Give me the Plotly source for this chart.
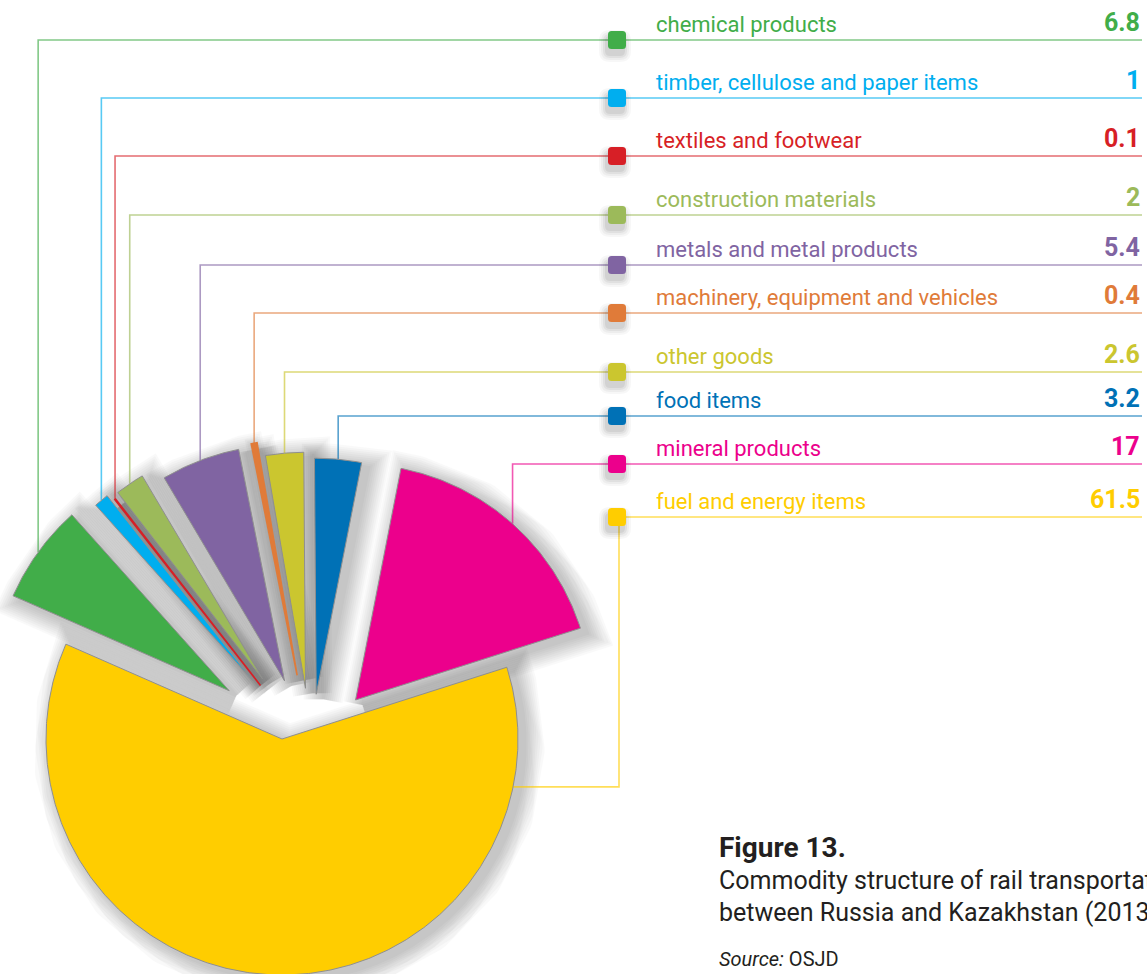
import math
import plotly.graph_objects as go

# ---- data -------------------------------------------------------------
categories = [
    "chemical products",
    "timber, cellulose and paper items",
    "textiles and footwear",
    "construction materials",
    "metals and metal products",
    "machinery, equipment and vehicles",
    "other goods",
    "food items",
    "mineral products",
    "fuel and energy items",
]
shares = [6.8, 1, 0.1, 2, 5.4, 0.4, 2.6, 3.2, 17, 61.5]  # % of total

# ---- styling ----------------------------------------------------------
colors = ["#41ad49", "#00aeef", "#d71f26", "#9cba5a", "#8064a2",
          "#e07b39", "#cbc62f", "#0071b6", "#ec008c", "#ffcd00"]
# how far each small slice is pulled out along its bisector (px)
pull_px = [101, 90, 82, 86, 74, 76, 62, 56, 67, 0]
# vertical position of each legend row rule
row_y = [40, 98, 156, 215, 265, 313, 372, 416, 464, 517]

W, H = 1147, 974
R = 236                 # pie radius
START = -66.3           # bearing of the first slice's leading edge (deg, clockwise from up)
MAIN_C = (282, 739)     # centre of the large slice
FAN_C = (311, 750)      # centre the small slices are pulled away from
ROW_X0, ROW_X1 = 654, 1142
SQ_X = 617
FONT = "Roboto, 'Open Sans', sans-serif"
INK = "#231f20"


def point(c, bearing, r):
    a = math.radians(bearing)
    return c[0] + r * math.sin(a), c[1] - r * math.cos(a)


# ---- slice geometry from the shares ---------------------------------------
slices = []
acc = 0.0
for i, v in enumerate(shares):
    a0 = START + 360.0 * acc / 100.0
    a1 = a0 + 360.0 * v / 100.0
    acc += v
    mid = (a0 + a1) / 2
    c = MAIN_C if pull_px[i] == 0 else point(FAN_C, mid, pull_px[i])
    n = max(3, int(abs(a1 - a0) * 2) + 2)
    xs, ys = [c[0]], [c[1]]
    for k in range(n + 1):
        px, py = point(c, a0 + (a1 - a0) * k / n, R)
        xs.append(px)
        ys.append(py)
    xs.append(c[0])
    ys.append(c[1])
    slices.append(dict(xs=xs, ys=ys, c=c, mid=mid))

fig = go.Figure()

# soft drop shadows under every slice (stacked translucent halos)
halo_widths = [3, 7, 11, 15, 19, 23, 27, 31, 35, 39]
for s in slices:
    for w in halo_widths:
        fig.add_trace(go.Scatter(
            x=[x + 7 for x in s["xs"]], y=[y + 5 for y in s["ys"]],
            mode="lines", fill="toself", fillcolor="#000000",
            line=dict(color="#000000", width=w), opacity=0.018,
            hoverinfo="skip", showlegend=False))

# leader lines from each slice to its legend row
for i, s in enumerate(slices):
    if pull_px[i] == 0:
        ax, ay = point(s["c"], 101.7, R)
        lx = [ROW_X1, SQ_X + 2, SQ_X + 2, ax]
        ly = [row_y[i], row_y[i], ay, ay]
    else:
        ax, ay = point(s["c"], s["mid"], R)
        lx = [ax, ax, ROW_X1]
        ly = [ay, row_y[i], row_y[i]]
    fig.add_trace(go.Scatter(
        x=lx, y=ly, mode="lines", line=dict(color=colors[i], width=1.6),
        opacity=0.65, hoverinfo="skip", showlegend=False))

# the slices themselves
for i, s in enumerate(slices):
    thin = shares[i] < 1
    fig.add_trace(go.Scatter(
        x=s["xs"], y=s["ys"], mode="lines", fill="toself",
        fillcolor=colors[i],
        line=dict(color=colors[i] if thin else "#8f8f8f", width=1.6 if thin else 1),
        name=categories[i], hoverinfo="name", showlegend=False))

# legend rows: rounded swatch, label and value
shapes = []
annotations = []


def rounded_square(cx, cy, half, r):
    x0, x1, y0, y1 = cx - half, cx + half, cy - half, cy + half
    return (f"M{x0 + r},{y0} L{x1 - r},{y0} Q{x1},{y0} {x1},{y0 + r} "
            f"L{x1},{y1 - r} Q{x1},{y1} {x1 - r},{y1} L{x0 + r},{y1} "
            f"Q{x0},{y1} {x0},{y1 - r} L{x0},{y0 + r} Q{x0},{y0} {x0 + r},{y0} Z")


for i, cat in enumerate(categories):
    y = row_y[i]
    for grow, op in [(7, 0.03), (5, 0.04), (3, 0.05), (1, 0.06)]:
        shapes.append(dict(
            type="path", xref="x", yref="y",
            path=rounded_square(SQ_X - 2, y + 6, 9 + grow, 4 + grow),
            fillcolor=f"rgba(0,0,0,{op})", line=dict(width=0), layer="above"))
    shapes.append(dict(
        type="path", xref="x", yref="y", path=rounded_square(SQ_X, y, 9, 3.5),
        fillcolor=colors[i], line=dict(width=0), layer="above"))
    annotations.append(dict(
        x=ROW_X0, y=y - 1, xref="x", yref="y", xanchor="left", yanchor="bottom",
        text=cat, showarrow=False, font=dict(family=FONT, size=22, color=colors[i])))
    annotations.append(dict(
        x=ROW_X1, y=y - 1, xref="x", yref="y", xanchor="right", yanchor="bottom",
        text=f"<b>{shares[i]:g}</b>", showarrow=False,
        font=dict(family=FONT, size=25, color=colors[i])))

# caption
CAP_X = 717
annotations += [
    dict(x=CAP_X, y=829, xref="x", yref="y", xanchor="left", yanchor="top",
         text="<b>Figure 13.</b>", showarrow=False,
         font=dict(family=FONT, size=28, color=INK)),
    dict(x=CAP_X, y=864, xref="x", yref="y", xanchor="left", yanchor="top",
         text="Commodity structure of rail transportation", showarrow=False,
         font=dict(family=FONT, size=25, color=INK)),
    dict(x=CAP_X, y=896, xref="x", yref="y", xanchor="left", yanchor="top",
         text="between Russia and Kazakhstan (2013)", showarrow=False,
         font=dict(family=FONT, size=25, color=INK)),
    dict(x=CAP_X, y=945, xref="x", yref="y", xanchor="left", yanchor="top",
         text="<i>Source:</i> OSJD", showarrow=False,
         font=dict(family=FONT, size=20, color=INK)),
]

fig.update_layout(
    width=W, height=H,
    margin=dict(l=0, r=0, t=0, b=0),
    paper_bgcolor="white", plot_bgcolor="white",
    xaxis=dict(range=[0, W], visible=False, fixedrange=True),
    yaxis=dict(range=[H, 0], visible=False, fixedrange=True),
    shapes=shapes, annotations=annotations,
    showlegend=False,
)

fig.write_html("out.html", config={"displayModeBar": False})
